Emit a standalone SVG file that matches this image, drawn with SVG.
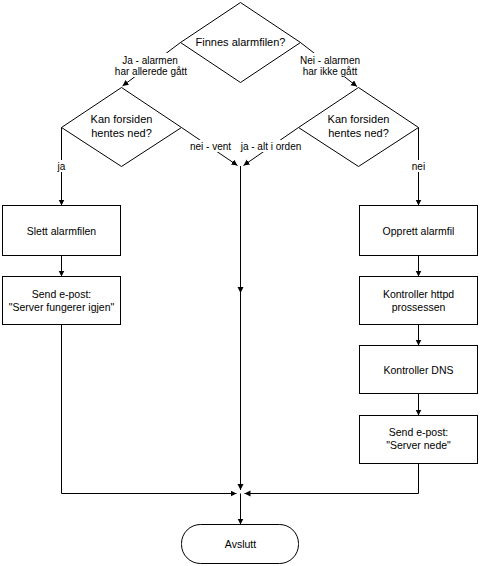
<svg xmlns="http://www.w3.org/2000/svg" width="480" height="566" viewBox="0 0 480 566">
<defs>
<marker id="arr" markerUnits="userSpaceOnUse" markerWidth="8" markerHeight="8" refX="6" refY="3" orient="auto">
<path d="M0,0 L6,3 L0,6 Z" fill="#000"/>
</marker>
<style>
.shape{fill:#fff;stroke:#000;stroke-width:1}
.line{fill:none;stroke:#000;stroke-width:1}
.t{font-family:"Liberation Sans",Arial,sans-serif;font-size:11px;fill:#000;text-anchor:middle}
.b{font-size:10.5px}
.e{font-family:"Liberation Sans",Arial,sans-serif;font-size:10px;fill:#000;text-anchor:middle}
.bg{fill:#fff;stroke:none}
</style>
</defs>
<rect width="480" height="566" fill="#fff"/>
<g id="connectors">
<path class="line" d="M180.5,42.5 L122.5,86" marker-end="url(#arr)"/>
<path class="line" d="M300.5,42.5 L357,86.5" marker-end="url(#arr)"/>
<path class="line" d="M61.5,127.5 L61.5,205.5" marker-end="url(#arr)"/>
<path class="line" d="M61.5,255.5 L61.5,276.5" marker-end="url(#arr)"/>
<path class="line" d="M61.5,324.5 L61.5,493.5 L236.5,493.5" marker-end="url(#arr)"/>
<path class="line" d="M181.5,127.5 L237.5,165.5" marker-end="url(#arr)"/>
<path class="line" d="M298.5,127.5 L243.5,165.5" marker-end="url(#arr)"/>
<path class="line" d="M240.5,166 L240.5,293" marker-end="url(#arr)"/>
<path class="line" d="M240.5,292 L240.5,490" marker-end="url(#arr)"/>
<path class="line" d="M418.5,127.5 L418.5,205.5" marker-end="url(#arr)"/>
<path class="line" d="M418.5,255.5 L418.5,276.5" marker-end="url(#arr)"/>
<path class="line" d="M418.5,324.5 L418.5,345.5" marker-end="url(#arr)"/>
<path class="line" d="M418.5,393.5 L418.5,415.5" marker-end="url(#arr)"/>
<path class="line" d="M418.5,463.5 L418.5,493.5 L244.5,493.5" marker-end="url(#arr)"/>
<path class="line" d="M240.5,493.5 L240.5,524.5" marker-end="url(#arr)"/>
<rect class="bg" x="114" y="53" width="74" height="24"/>
<text class="e" x="150" y="63.5">Ja - alarmen</text>
<text class="e" x="151" y="74.5">har allerede gått</text>
<rect class="bg" x="301" y="53" width="59" height="24"/>
<text class="e" x="330" y="63.5">Nei - alarmen</text>
<text class="e" x="330" y="74.5">har ikke gått</text>
<rect class="bg" x="188" y="140" width="45" height="12"/>
<text class="e" x="210.5" y="149.5">nei - vent</text>
<rect class="bg" x="241" y="140" width="60" height="12"/>
<text class="e" x="271" y="149.5">ja - alt i orden</text>
<rect class="bg" x="55" y="160" width="13" height="12"/>
<text class="e" x="61.5" y="169.5">ja</text>
<rect class="bg" x="410" y="160" width="17" height="12"/>
<text class="e" x="418.5" y="169.5">nei</text>
</g>
<g id="finnes">
<polygon class="shape" points="240.5,2.5 300.5,42.5 240.5,82.5 180.5,42.5"/>
<text class="t" x="240.5" y="46">Finnes alarmfilen?</text>
</g>
<g id="kan-venstre">
<polygon class="shape" points="121.5,87.5 181.5,127.5 121.5,166.5 61.5,127.5"/>
<text class="t" x="121.5" y="123">Kan forsiden</text>
<text class="t" x="121.5" y="137">hentes ned?</text>
</g>
<g id="kan-hoyre">
<polygon class="shape" points="358.5,87.5 418.5,127.5 358.5,166.5 298.5,127.5"/>
<text class="t" x="358.5" y="123">Kan forsiden</text>
<text class="t" x="358.5" y="137">hentes ned?</text>
</g>
<g id="slett">
<rect class="shape" x="2.5" y="205.5" width="118" height="50"/>
<text class="t b" x="61.5" y="235">Slett alarmfilen</text>
</g>
<g id="send-ok">
<rect class="shape" x="2.5" y="276.5" width="118" height="48"/>
<text class="t b" x="61.5" y="298">Send e-post:</text>
<text class="t b" x="61.5" y="311">"Server fungerer igjen"</text>
</g>
<g id="opprett">
<rect class="shape" x="359.5" y="205.5" width="118" height="50"/>
<text class="t b" x="418.5" y="235">Opprett alarmfil</text>
</g>
<g id="httpd">
<rect class="shape" x="359.5" y="276.5" width="118" height="48"/>
<text class="t b" x="418.5" y="298">Kontroller httpd</text>
<text class="t b" x="418.5" y="311">prossessen</text>
</g>
<g id="dns">
<rect class="shape" x="359.5" y="345.5" width="118" height="48"/>
<text class="t b" x="418.5" y="374">Kontroller DNS</text>
</g>
<g id="send-nede">
<rect class="shape" x="359.5" y="415.5" width="118" height="48"/>
<text class="t b" x="418.5" y="436">Send e-post:</text>
<text class="t b" x="418.5" y="449">"Server nede"</text>
</g>
<g id="avslutt">
<rect class="shape" x="181.5" y="524.5" width="117" height="39" rx="19" ry="19"/>
<text class="t b" x="240.5" y="548">Avslutt</text>
</g>
</svg>
